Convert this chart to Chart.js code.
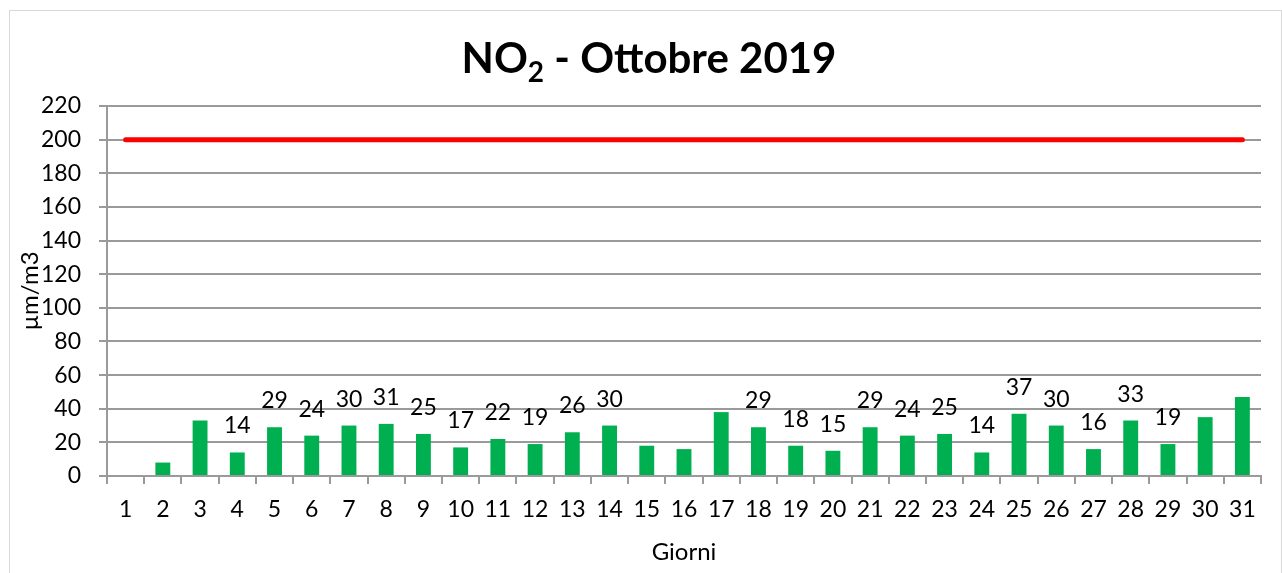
<!DOCTYPE html>
<html>
<head>
<meta charset="utf-8">
<script src="https://cdn.jsdelivr.net/npm/chart.js@4/dist/chart.umd.min.js"></script>
<style>
html,body{margin:0;padding:0;background:#fff;}
#wrap{width:1282px;height:573px;position:relative;}
</style>
</head>
<body>
<div id="wrap"><canvas id="c" width="1282" height="573"></canvas></div>
<script>
// ---- data ----
const days = ['1','2','3','4','5','6','7','8','9','10','11','12','13','14','15','16','17','18','19','20','21','22','23','24','25','26','27','28','29','30','31'];
const no2Values = [0,8,33,14,29,24,30,31,25,17,22,19,26,30,18,16,38,29,18,15,29,24,25,14,37,30,16,33,19,35,47];
const limitValues = [200,200,200,200,200,200,200,200,200,200,200,200,200,200,200,200,200,200,200,200,200,200,200,200,200,200,200,200,200,200,200];
const labelledDays = ['4','5','6','7','8','9','10','11','12','13','14','18','19','20','21','22','23','24','25','26','27','28','29'];
const titleMain = 'NO';
const titleSub = '2';
const titleRest = ' - Ottobre 2019';
const yAxisTitle = 'µm/m3';
const xAxisTitle = 'Giorni';

const FONT = 'Lato';
const GRID = '#9a9a9a';

const framePlugin = {
  id: 'frame',
  beforeDraw(chart) {
    const ctx = chart.ctx;
    ctx.save();
    ctx.fillStyle = '#ffffff';
    ctx.fillRect(0, 0, chart.width, chart.height);
    ctx.strokeStyle = '#d9d9d9';
    ctx.lineWidth = 1;
    ctx.strokeRect(9.5, 10.5, 1272, 600);
    ctx.restore();
  },
  afterDraw(chart) {
    const ctx = chart.ctx;
    ctx.save();
    ctx.fillStyle = '#000';
    ctx.textBaseline = 'alphabetic';
    const big = 'bold 42px ' + FONT;
    const small = 'bold 28px ' + FONT;
    ctx.font = big;
    const w1 = ctx.measureText(titleMain).width;
    const w3 = ctx.measureText(titleRest).width;
    ctx.font = small;
    const w2 = ctx.measureText(titleSub).width;
    const total = w1 + w2 + w3;
    let x = 649 - total / 2;
    const base = 73;
    ctx.textAlign = 'left';
    ctx.font = big;
    ctx.fillText(titleMain, x, base);
    x += w1;
    ctx.font = small;
    ctx.fillText(titleSub, x, base + 9);
    x += w2;
    ctx.font = big;
    ctx.fillText(titleRest, x, base);

    // data labels
    const meta = chart.getDatasetMeta(0);
    ctx.font = '23px ' + FONT;
    ctx.textAlign = 'center';
    meta.data.forEach((bar, i) => {
      if (labelledDays.indexOf(days[i]) === -1) return;
      ctx.fillText(String(no2Values[i]), bar.x, bar.y - 19);
    });
    ctx.restore();
  }
};

new Chart(document.getElementById('c'), {
  data: {
    labels: days,
    datasets: [
      {
        type: 'bar',
        data: no2Values,
        backgroundColor: '#00b050',
        borderWidth: 0,
        barPercentage: 0.4,
        categoryPercentage: 1,
        order: 2
      },
      {
        type: 'line',
        data: limitValues,
        borderColor: '#ff0000',
        borderWidth: 5,
        borderCapStyle: 'round',
        pointRadius: 0,
        fill: false,
        order: 1
      }
    ]
  },
  options: {
    responsive: false,
    animation: false,
    layout: { padding: { top: 106, right: 21, left: 0, bottom: 0 } },
    plugins: { legend: { display: false }, tooltip: { enabled: false }, title: { display: false } },
    scales: {
      x: {
        offset: true,
        grid: { display: true, drawOnChartArea: false, offset: true, color: GRID, lineWidth: 2, tickLength: 8 },
        border: { color: GRID, width: 2 },
        ticks: { color: '#000', font: { family: FONT, size: 23 }, padding: 12, maxRotation: 0, autoSkip: false },
        title: { display: true, text: xAxisTitle, color: '#000', font: { family: FONT, size: 24 }, padding: { top: 0, bottom: 6 } },
        afterFit(scale) { scale.height = 97; }
      },
      y: {
        min: 0,
        max: 220,
        grid: { color: GRID, lineWidth: 2, tickLength: 8 },
        border: { color: GRID, width: 2 },
        ticks: { stepSize: 20, color: '#000', font: { family: FONT, size: 23 }, padding: 18 },
        title: { display: true, text: yAxisTitle, color: '#000', font: { family: FONT, size: 24 }, padding: { top: 16, bottom: 0 } },
        afterFit(scale) { scale.width = 107; }
      }
    }
  },
  plugins: [framePlugin]
});
</script>
</body>
</html>
